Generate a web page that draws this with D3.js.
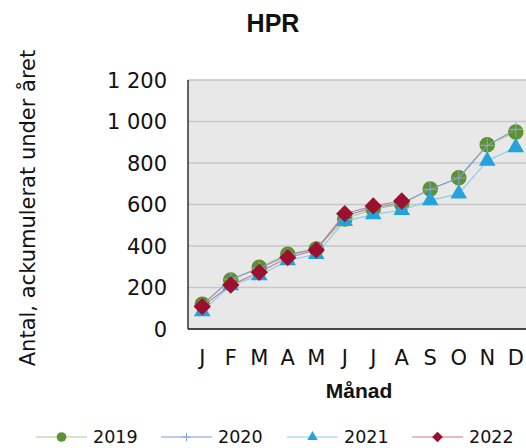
<!DOCTYPE html>
<html>
<head>
<meta charset="utf-8">
<script src="https://cdn.jsdelivr.net/npm/d3@7"></script>
<style>
    body { margin: 0; background: #fff; }
    #chart { width: 526px; height: 448px; }
    text { fill: #111; }
</style>
</head>
<body>
<div id="chart"></div>
<script>
// months (keys unique, labels shown)
var monthKeys = ["jan", "feb", "mar", "apr", "maj", "jun", "jul", "aug", "sep", "okt", "nov", "dec"];
var monthLabels = ["J", "F", "M", "A", "M", "J", "J", "A", "S", "O", "N", "D"];

var yTicks = [0, 200, 400, 600, 800, 1000, 1200];
var yTickLabels = ["0", "200", "400", "600", "800", "1 000", "1 200"];

var v2019 = [119, 236, 297, 360, 386, 530, 577, 601, 675, 729, 888, 949];
var v2020 = [115, 240, 292, 356, 387, 545, 585, 606, 673, 728, 885, 962];
var v2021 = [85, 210, 258, 330, 360, 520, 552, 573, 620, 652, 810, 875];
var v2022 = [108, 212, 273, 344, 381, 556, 593, 617];

var seriesNames = ["2019", "2020", "2021", "2022"];

var width = 526, height = 448;
var plotLeft = 188, plotRight = 530, plotTop = 80, plotBottom = 329;

var svg = d3.select("#chart")
    .append("svg")
    .attr("width", width)
    .attr("height", height);

var x = d3.scalePoint()
    .domain(monthKeys)
    .range([plotLeft, plotRight])
    .padding(0.5);

var y = d3.scaleLinear()
    .domain([0, 1200])
    .range([plotBottom, plotTop]);

// plot background
svg.append("rect")
    .attr("x", plotLeft)
    .attr("y", plotTop)
    .attr("width", plotRight - plotLeft)
    .attr("height", plotBottom - plotTop)
    .attr("fill", "#e8e8e8");

// gridlines
svg.selectAll("line.grid")
    .data(yTicks.slice(1))
    .enter()
    .append("line")
    .attr("class", "grid")
    .attr("x1", plotLeft)
    .attr("x2", plotRight)
    .attr("y1", function(d) { return y(d); })
    .attr("y2", function(d) { return y(d); })
    .attr("stroke", "#c6c6c6")
    .attr("stroke-width", 1.3);

// axis lines
svg.append("line")
    .attr("x1", plotLeft).attr("x2", plotLeft)
    .attr("y1", plotTop).attr("y2", plotBottom)
    .attr("stroke", "#111").attr("stroke-width", 1.3);
svg.append("line")
    .attr("x1", plotLeft).attr("x2", plotRight)
    .attr("y1", plotBottom).attr("y2", plotBottom)
    .attr("stroke", "#111").attr("stroke-width", 1.3);

// y tick labels
svg.selectAll("text.ytick")
    .data(yTicks)
    .enter()
    .append("text")
    .attr("class", "ytick")
    .attr("x", 167)
    .attr("y", function(d) { return y(d); })
    .attr("dy", "0.36em")
    .attr("text-anchor", "end")
    .style("font-family", "DejaVu Sans")
    .style("font-size", "21px")
    .text(function(d, i) { return yTickLabels[i]; });

// x tick labels
svg.selectAll("text.xtick")
    .data(monthKeys)
    .enter()
    .append("text")
    .attr("class", "xtick")
    .attr("x", function(d) { return x(d); })
    .attr("y", 365)
    .attr("text-anchor", "middle")
    .style("font-family", "DejaVu Sans")
    .style("font-size", "21px")
    .text(function(d, i) { return monthLabels[i]; });

// titles
svg.append("text")
    .attr("x", 273)
    .attr("y", 32)
    .attr("text-anchor", "middle")
    .style("font-family", "Liberation Sans, Arial")
    .style("font-weight", "bold")
    .style("font-size", "25px")
    .text("HPR");

svg.append("text")
    .attr("x", (plotLeft + plotRight) / 2)
    .attr("y", 398)
    .attr("text-anchor", "middle")
    .style("font-family", "Liberation Sans, Arial")
    .style("font-weight", "bold")
    .style("font-size", "21px")
    .text("Månad");

svg.append("text")
    .attr("transform", "translate(35," + 208 + ") rotate(-90)")
    .attr("text-anchor", "middle")
    .style("font-family", "DejaVu Sans")
    .style("font-size", "21px")
    .text("Antal, ackumulerat under året");

var styles = [
    { values: v2019, line: "#a9c98e", marker: "circle", fill: "#5e9130", size: 190 },
    { values: v2020, line: "#7e9bcb", marker: "plus", fill: "#8aa4d0", size: 150 },
    { values: v2021, line: "#8cc9e8", marker: "triangle", fill: "#22a3dc", size: 120 },
    { values: v2022, line: "#c9788f", marker: "diamond", fill: "#9c102f", size: 150 }
];

function symbolType(name) {
    if (name == "circle") return d3.symbolCircle;
    if (name == "triangle") return d3.symbolTriangle;
    if (name == "diamond") return d3.symbolSquare;
    return d3.symbolCross;
}

function drawMarker(g, s, px, py, scale) {
    if (s.marker == "plus") {
        var h = 7 * scale;
        g.append("path")
            .attr("d", "M" + (px - h) + "," + py + "H" + (px + h) + "M" + px + "," + (py - h) + "V" + (py + h))
            .attr("stroke", s.fill)
            .attr("stroke-width", 1.1)
            .attr("fill", "none");
        return;
    }
    var rot = s.marker == "diamond" ? " rotate(45)" : "";
    g.append("path")
        .attr("transform", "translate(" + px + "," + py + ")" + rot)
        .attr("d", d3.symbol().type(symbolType(s.marker)).size(s.size * scale * scale)())
        .attr("fill", s.fill);
}

var line = d3.line()
    .x(function(d, i) { return x(monthKeys[i]); })
    .y(function(d) { return y(d); });

styles.forEach(function(s) {
    var g = svg.append("g");
    g.append("path")
        .attr("d", line(s.values))
        .attr("fill", "none")
        .attr("stroke", s.line)
        .attr("stroke-width", 1.1);
    s.values.forEach(function(v, i) {
        drawMarker(g, s, x(monthKeys[i]), y(v), 1);
    });
});

// legend
var legendX = [36, 161, 287, 412];
styles.forEach(function(s, i) {
    var g = svg.append("g");
    var lx = legendX[i];
    g.append("line")
        .attr("x1", lx).attr("x2", lx + 51)
        .attr("y1", 437).attr("y2", 437)
        .attr("stroke", s.line)
        .attr("stroke-width", 1.1);
    drawMarker(g, s, lx + 25.5, 437, 0.62);
    g.append("text")
        .attr("x", lx + 57)
        .attr("y", 437)
        .attr("dy", "0.36em")
        .style("font-family", "DejaVu Sans")
        .style("font-size", "17.5px")
        .text(seriesNames[i]);
});
</script>
</body>
</html>
